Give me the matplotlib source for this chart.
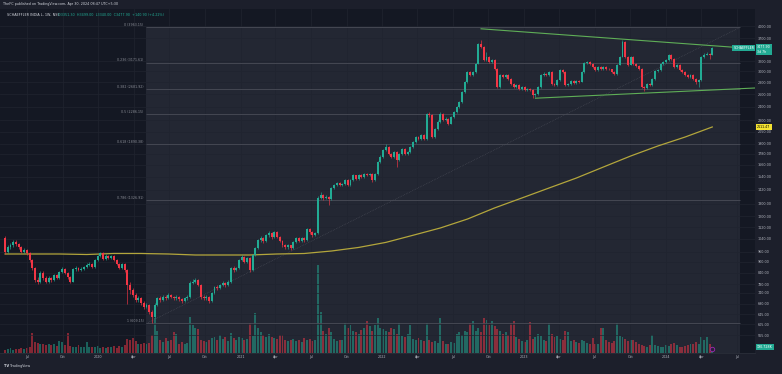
import matplotlib
matplotlib.use('Agg')
import matplotlib.pyplot as plt
from matplotlib.transforms import blended_transform_factory
import numpy as np
import pandas as pd

plt.rcParams['font.family'] = 'DejaVu Sans'

# weekly candles SCHAEFFLER INDIA (NSE)
start_week = '2019-05-06'
first_open = 1045

closes = [
    957, 985, 998, 1017, 1004, 985, 957, 969, 951, 910,
    865, 801, 793, 840, 811, 793, 811, 801, 827, 811,
    843, 860, 838, 817, 793, 860, 865, 854, 860, 871,
    882, 888, 871, 910, 933, 951, 916, 933, 921, 933,
    910, 888, 865, 888, 854, 776, 752, 729, 706, 715,
    693, 676, 684, 655, 635, 684, 715, 706, 720, 715,
    729, 720, 715, 720, 711, 702, 715, 720, 787, 793,
    801, 776, 720, 715, 720, 702, 738, 766, 761, 776,
    787, 776, 793, 865, 854, 865, 910, 927, 899, 921,
    854, 939, 980, 1032, 1045, 1026, 1064, 1077, 1051, 1083,
    1051, 1026, 998, 985, 998, 980, 1017, 1045, 1026, 1045,
    1032, 1107, 1083, 1064, 1077, 1347, 1374, 1347, 1356, 1338,
    1435, 1463, 1482, 1463, 1473, 1509, 1463, 1509, 1557, 1518,
    1557, 1538, 1567, 1557, 1567, 1509, 1567, 1692, 1747, 1825,
    1859, 1779, 1747, 1802, 1713, 1779, 1836, 1779, 1802, 1859,
    1920, 1984, 1957, 2010, 1957, 2295, 2281, 1984, 2085, 2180,
    2295, 2207, 2221, 2152, 2252, 2322, 2398, 2475, 2635, 2806,
    2990, 2934, 2990, 3151, 3570, 3503, 3226, 3289, 3188, 3226,
    3047, 2722, 2934, 2898, 2934, 2860, 2771, 2722, 2754, 2685,
    2722, 2668, 2685, 2668, 2580, 2596, 2722, 2934, 2952, 2934,
    2990, 2771, 2754, 2842, 3028, 2990, 2754, 2771, 2824, 2789,
    2824, 2806, 2990, 3169, 3188, 3151, 3092, 3028, 3092, 3047,
    3092, 3047, 3040, 2990, 2952, 3130, 3289, 3616, 3289, 3130,
    3289, 3151, 3111, 3047, 2722, 2700, 2771, 2754, 2860, 3009,
    3028, 3151, 3188, 3226, 3334, 3246, 3092, 3130, 3028, 2990,
    2934, 2898, 2934, 2860, 2800, 2840, 3289, 3334, 3360, 3337,
    3477.90,
]

highs = [
    1060, 1000, 1010, 1035, 1030, 1012, 992, 982, 975, 958,
    918, 870, 815, 850, 848, 820, 822, 818, 835, 832,
    850, 868, 865, 845, 822, 866, 875, 872, 868, 878,
    890, 896, 893, 916, 940, 960, 956, 942, 940, 940,
    938, 915, 895, 895, 893, 860, 790, 760, 738, 725,
    722, 700, 692, 690, 662, 692, 722, 724, 730, 728,
    738, 735, 726, 730, 725, 716, 722, 728, 795, 808,
    812, 806, 780, 728, 730, 726, 745, 772, 775, 782,
    795, 792, 800, 872, 878, 872, 918, 938, 932, 930,
    926, 945, 990, 1042, 1060, 1052, 1072, 1092, 1085, 1092,
    1090, 1058, 1032, 1006, 1008, 1003, 1025, 1052, 1050, 1055,
    1052, 1115, 1112, 1090, 1085, 1360, 1395, 1385, 1372, 1365,
    1445, 1475, 1495, 1490, 1485, 1520, 1515, 1518, 1570, 1562,
    1570, 1565, 1580, 1578, 1582, 1575, 1578, 1705, 1765, 1840,
    1890, 1870, 1790, 1815, 1810, 1790, 1850, 1845, 1815, 1870,
    1935, 2000, 1995, 2025, 2020, 2310, 2320, 2290, 2100, 2200,
    2315, 2305, 2245, 2230, 2268, 2340, 2415, 2495, 2655, 2830,
    3010, 3005, 3015, 3175, 3600, 3660, 3520, 3400, 3310, 3250,
    3240, 3060, 2955, 2960, 2960, 2945, 2875, 2790, 2775, 2765,
    2740, 2735, 2705, 2700, 2680, 2620, 2740, 2955, 2985, 2975,
    3015, 3000, 2790, 2860, 3050, 3045, 3000, 2795, 2845, 2840,
    2840, 2835, 3005, 3190, 3215, 3200, 3165, 3105, 3110, 3105,
    3110, 3100, 3065, 3050, 3000, 3150, 3310, 3650, 3630, 3300,
    3310, 3300, 3170, 3125, 3060, 2740, 2790, 2795, 2880, 3030,
    3055, 3170, 3210, 3250, 3360, 3350, 3260, 3150, 3145, 3045,
    3000, 2950, 2950, 2945, 2875, 2860, 3310, 3370, 3390, 3375,
    3499,
]

lows = [
    945, 950, 975, 990, 995, 975, 948, 950, 940, 900,
    855, 790, 780, 788, 800, 785, 788, 792, 796, 805,
    806, 836, 830, 808, 785, 790, 850, 846, 848, 852,
    865, 875, 864, 866, 904, 926, 908, 910, 914, 915,
    902, 880, 858, 860, 845, 690, 735, 718, 698, 698,
    685, 668, 670, 648, 609, 630, 678, 698, 700, 706,
    710, 714, 705, 708, 704, 695, 698, 708, 716, 780,
    785, 770, 712, 706, 708, 694, 698, 732, 752, 755,
    770, 768, 770, 788, 845, 848, 860, 902, 890, 892,
    845, 850, 932, 975, 1022, 1015, 1020, 1055, 1042, 1045,
    1044, 1018, 990, 975, 978, 970, 975, 1010, 1018, 1020,
    1022, 1028, 1075, 1055, 1058, 1072, 1335, 1330, 1335, 1290,
    1332, 1425, 1455, 1450, 1455, 1465, 1450, 1455, 1500, 1505,
    1510, 1525, 1530, 1545, 1548, 1495, 1500, 1560, 1680, 1735,
    1810, 1765, 1730, 1740, 1640, 1700, 1770, 1765, 1770, 1795,
    1850, 1910, 1945, 1950, 1945, 1950, 2250, 1970, 1975, 2070,
    2170, 2190, 2195, 2135, 2145, 2240, 2310, 2385, 2465, 2620,
    2790, 2910, 2920, 2980, 3140, 3470, 3200, 3210, 3170, 3170,
    3030, 2700, 2710, 2880, 2885, 2845, 2755, 2700, 2705, 2670,
    2675, 2650, 2655, 2650, 2531, 2560, 2585, 2710, 2920, 2915,
    2920, 2750, 2735, 2745, 2830, 2975, 2735, 2740, 2760, 2775,
    2780, 2790, 2800, 2980, 3150, 3130, 3075, 3010, 3015, 3030,
    3035, 3030, 3020, 2975, 2930, 2940, 3120, 3280, 3270, 3110,
    3120, 3130, 3090, 3025, 2700, 2650, 2680, 2735, 2745, 2850,
    2995, 3015, 3135, 3170, 3215, 3225, 3075, 3075, 3010, 2975,
    2915, 2880, 2885, 2845, 2780, 2720, 2830, 3270, 3320, 3240,
    3330,
]

# volume in thousands of shares
volumes = [
    110, 130, 150, 100, 120, 140, 160, 130, 150, 200,
    640, 350, 330, 300, 280, 260, 300, 250, 280, 230,
    380, 360, 250, 640, 220, 200, 180, 240, 200, 190,
    350, 200, 180, 190, 220, 170, 200, 160, 180, 190,
    210, 150, 230, 180, 260, 450, 420, 480, 380, 300,
    280, 330, 300, 320, 560, 1100, 700, 400, 350, 480,
    380, 420, 650, 600, 300, 350, 280, 320, 1150, 900,
    800, 750, 420, 380, 350, 400, 480, 500, 420, 560,
    450, 520, 380, 640, 480, 420, 500, 460, 400, 450,
    950, 550, 1280, 800, 650, 560, 500, 600, 520, 480,
    450, 580, 560, 400, 380, 420, 450, 380, 420, 350,
    480, 400, 450, 380, 420, 2800, 1300, 700, 600, 800,
    650, 450, 380, 420, 400, 950, 800, 900, 700, 650,
    600, 720, 800, 1000, 850, 700, 900, 1100, 800, 750,
    700, 650, 800, 750, 600, 950, 550, 500, 600, 880,
    450, 400, 480, 420, 380, 960, 400, 350, 380, 330,
    1100, 380, 300, 280, 350, 320, 600, 650, 580, 700,
    650, 960, 1000, 700, 800, 650, 1100, 1050, 900, 1000,
    850, 750, 700, 600, 650, 560, 960, 1000, 500, 450,
    380, 350, 400, 980, 450, 500, 600, 550, 420, 380,
    950, 600, 500, 550, 450, 400, 700, 650, 380, 400,
    350, 320, 420, 380, 330, 300, 480, 280, 300, 800,
    780, 400, 350, 330, 380, 960, 550, 500, 450, 380,
    420, 400, 350, 300, 250, 220, 200, 260, 580, 250,
    220, 200, 180, 250, 230, 300, 320, 250, 180, 200,
    220, 260, 300, 280, 350, 300, 500, 420, 520, 300,
    190.728,
]

# long moving average, one value every 10 weeks
ma_vals = [945, 945, 945, 942, 948, 948, 945, 939, 939, 939,
           945, 948, 963, 985, 1017, 1064, 1114, 1179, 1265, 1347,
           1435, 1528, 1639, 1757, 1872, 1981, 2111.47]

# fib retracement drawing
fib_hi = 3963.15
fib_lo = 609.15
fib_levels = [0, 0.236, 0.382, 0.5, 0.618, 0.786, 1]
fib_dates = ['2020-05-04', '2024-07-09']

# triangle trend lines
upper_dates = ['2022-09-12', '2024-08-17']
upper_vals = [3930, 3463]
lower_dates = ['2023-01-30', '2024-08-17']
lower_vals = [2533, 2702]

price_ticks = [4000, 3700, 3200, 3000, 2800, 2600, 2400, 2200, 2050, 1900,
               1780, 1660, 1540, 1420, 1300, 1200, 1120, 1040, 960, 900,
               840, 780, 740, 690, 645, 605, 565]

dates = pd.date_range(start_week, periods=len(closes), freq='7D')
c = np.array(closes, dtype=float)
o = np.concatenate([[first_open], c[:-1]])
h = np.array(highs, dtype=float)
l = np.array(lows, dtype=float)
col_up, col_dn = '#22ab94', '#f23645'
colors = np.where(c >= o, col_up, col_dn)

bg = '#141823'
txt = '#b2b5be'

fig = plt.figure(figsize=(7.82, 3.74), dpi=100, facecolor='#1c1f2b')
ax = fig.add_axes([0, 21 / 374, 755 / 782, 344.5 / 374])
ax2 = ax.twinx()
ax.set_zorder(ax2.get_zorder() + 1)
ax.patch.set_visible(False)
ax2.patch.set_visible(True)
ax2.set_facecolor(bg)

ylo, yhi = 505, 4469
ax.set_yscale('log')
ax.set_ylim(ylo, yhi)
ax.set_xlim(pd.Timestamp('2019-04-23'), pd.Timestamp('2024-08-17'))

# volume (overlay at the bottom)
ax2.bar(dates, volumes, width=5, color=colors, alpha=0.5, linewidth=0, zorder=2)
ax2.set_ylim(0, max(volumes) * 3.9)
ax2.set_yticks([])

# fib zone background
fd0, fd1 = pd.Timestamp(fib_dates[0]), pd.Timestamp(fib_dates[1])
frac = (np.log(fib_hi) - np.log(ylo)) / (np.log(yhi) - np.log(ylo))
ax2.axvspan(fd0, fd1, ymin=0, ymax=frac, color='#232733', lw=0, zorder=0)

# grid + ticks
ax.set_yticks(price_ticks)
ax.set_yticklabels([f'{t:.2f}' for t in price_ticks])
ax.minorticks_off()
ax.yaxis.tick_right()
qs = pd.date_range('2019-07-01', '2024-07-01', freq='QS')
ax.set_xticks(qs)
ax.set_xticklabels([str(d.year) if d.month == 1 else d.strftime('%b') for d in qs])
ax.grid(True, color='#20242f', lw=0.5)
ax.tick_params(axis='both', length=0, labelsize=2.4, colors=txt)
ax.tick_params(axis='y', pad=2.2)
ax.tick_params(axis='x', pad=1.6)
for a in (ax, ax2):
    for s in a.spines.values():
        s.set_visible(False)
ax.spines['bottom'].set_visible(True)
ax.spines['bottom'].set_color('#2a2e39')
ax.spines['bottom'].set_linewidth(0.6)

# fib levels
for lv in fib_levels:
    p = fib_hi - lv * (fib_hi - fib_lo)
    ax.hlines(p, fd0, fd1, color='#4a4d58', lw=0.6, zorder=2)
    ax.annotate(f'{lv:g} ({p:.2f})', (fd0, p), xytext=(-2, 0.3),
                textcoords='offset points', ha='right', va='bottom',
                fontsize=2.3, color='#8b8e97')
ax.plot([fd0, fd1], [fib_lo, fib_hi], ls=(0, (1, 1.5)), color='#4a4d58', lw=0.5, zorder=2)

# moving average
ax.plot(dates[::10], ma_vals, color='#b3a63c', lw=0.9, zorder=2.5)

# candles
ax.vlines(dates, l, h, colors=colors, lw=0.45, zorder=3)
ax.bar(dates, np.abs(c - o), bottom=np.minimum(o, c), width=5, color=colors,
       linewidth=0, zorder=4)

# trend lines
ax.plot(pd.to_datetime(upper_dates), upper_vals, color='#5fae57', lw=0.8, zorder=5)
ax.plot(pd.to_datetime(lower_dates), lower_vals, color='#5fae57', lw=0.8, zorder=5)

# tags on the price scale
ytr = ax.get_yaxis_transform()
ax.text(0.999, c[-1], 'SCHAEFFLER', transform=ytr, ha='right', va='center',
        fontsize=2.3, color='white', clip_on=False, zorder=10,
        bbox=dict(fc=col_up, ec='none', boxstyle='square,pad=0.35'))
ax.annotate('3477.90\n3d 7h', (1.0027, c[-1]), xycoords=ytr, xytext=(0, 2.0),
            textcoords='offset points', ha='left', va='top', fontsize=2.3,
            color='white', annotation_clip=False, zorder=10,
            bbox=dict(fc=col_up, ec='none', boxstyle='square,pad=0.35'))
ax.text(1.0027, ma_vals[-1], f'{ma_vals[-1]:.2f}', transform=ytr, ha='left', va='center',
        fontsize=2.3, color='black', clip_on=False, zorder=10,
        bbox=dict(fc='#f3e232', ec='none', boxstyle='square,pad=0.35'))
vtr = blended_transform_factory(ax.transAxes, ax2.transData)
ax.text(1.0027, volumes[-1], '190.728K', transform=vtr, ha='left', va='center',
        fontsize=2.3, color='white', clip_on=False, zorder=10,
        bbox=dict(fc=col_up, ec='none', boxstyle='square,pad=0.35'))

# earnings marker
ax.plot([dates[-1]], [0.012], transform=ax.get_xaxis_transform(), marker='o', ms=3.2,
        mfc='#2a1f3a', mec='#9c27b0', mew=0.6, zorder=9, clip_on=False)

# header / footer
fig.text(3 / 782, 1 - 4.5 / 374, 'TheFC published on TradingView.com, Apr 30, 2024 08:47 UTC+5:30',
         fontsize=2.4, color='#d1d4dc', va='center')
fig.text(7 / 782, 1 - 14.5 / 374, 'SCHAEFFLER INDIA L, 1W, NSE', fontsize=2.4,
         color='#d1d4dc', va='center')
fig.text(58 / 782, 1 - 14.5 / 374, 'O3351.30  H3499.00  L3340.00  C3477.90  +140.90 (+4.22%)',
         fontsize=2.4, color=col_up, va='center')
fig.text(4 / 782, 1 - 366 / 374, 'TV', fontsize=2.6, fontweight='bold', color='#d1d4dc', va='center')
fig.text(10 / 782, 1 - 366 / 374, 'TradingView', fontsize=2.4, color='#d1d4dc', va='center')

fig.savefig('out.png', dpi=100, facecolor=fig.get_facecolor())
